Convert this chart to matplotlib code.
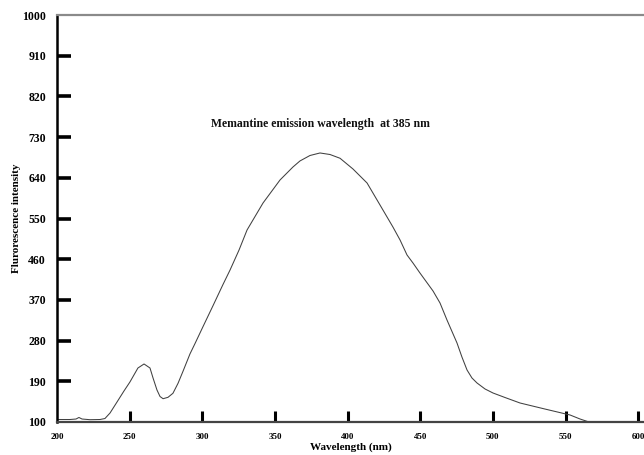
import matplotlib
matplotlib.use("Agg")
import matplotlib.pyplot as plt

# Data (wavelength nm, fluorescence intensity)
wavelength = [200.0, 208.9, 213.1, 215.1, 217.2, 222.7, 229.6, 233.0, 236.5, 241.3,
              246.1, 250.2, 255.7, 259.9, 264.0, 266.1, 268.8, 270.9, 273.0, 276.4,
              279.8, 283.3, 286.7, 291.5, 295.0, 300.5, 307.4, 314.2, 319.1, 325.3,
              330.8, 341.8, 353.5, 362.4, 367.2, 374.1, 381.0, 387.9, 394.8, 403.7,
              413.4, 422.3, 431.2, 436.1, 440.9, 445.0, 449.8, 458.8, 463.6, 468.4,
              475.3, 478.7, 482.2, 485.6, 489.1, 494.6, 500.1, 508.3, 518.7, 535.8,
              553.1, 560.0, 568.2]
intensity = [105.5, 105.5, 106.6, 110.0, 106.6, 105.1, 105.5, 107.7, 119.9, 144.2,
             168.6, 188.5, 219.4, 228.3, 219.4, 197.3, 170.8, 156.4, 151.5, 154.6,
             163.5, 185.6, 212.0, 250.4, 273.6, 311.0, 357.4, 403.8, 436.1, 480.4,
             524.6, 584.3, 635.2, 663.9, 677.2, 689.3, 694.9, 691.5, 683.2, 659.5,
             628.5, 579.9, 531.2, 502.5, 469.3, 451.6, 429.5, 389.7, 363.2, 325.6,
             274.7, 243.7, 215.0, 197.3, 186.2, 173.0, 164.1, 154.2, 142.0, 128.7,
             115.5, 106.6, 97.8]

x_ticks = [200, 250, 300, 350, 400, 450, 500, 550, 600]
x_tick_labels = ["200", "250", "300", "350", "400", "450", "500", "550", "600"]
y_ticks = [100, 190, 280, 370, 460, 550, 640, 730, 820, 910, 1000]
y_tick_labels = ["100", "190", "280", "370", "460", "550", "640", "730", "820", "910", "1000"]

title_text = "Memantine emission wavelength  at 385 nm"
x_label = "Wavelength (nm)"
y_label = "Flurorescence intensity"

serif = ["Liberation Serif", "DejaVu Serif"]

fig = plt.figure(figsize=(6.44, 4.55), dpi=100)
ax = fig.add_axes([57 / 644, 33 / 455, 587 / 644, 407 / 455])

ax.plot(wavelength, intensity, color="#404040", lw=0.75)

ax.set_xlim(200, 604)
ax.set_ylim(100, 1000)

ax.set_xticks(x_ticks)
ax.set_xticklabels(x_tick_labels, fontfamily=serif, fontweight="bold", fontsize=6.5)
ax.set_yticks(y_ticks)
ax.set_yticklabels(y_tick_labels, fontfamily=serif, fontweight="bold", fontsize=8.5)

ax.tick_params(axis="y", direction="in", length=10, width=2.6, color="black", pad=8)
ax.tick_params(axis="x", direction="in", length=8, width=2.2, color="black", pad=8)

# no tick marks at the corners
yt = ax.yaxis.get_major_ticks()
yt[0].tick1line.set_visible(False)
yt[-1].tick1line.set_visible(False)
xt = ax.xaxis.get_major_ticks()
xt[0].tick1line.set_visible(False)

ax.spines["left"].set_linewidth(1.8)
ax.spines["left"].set_color("black")
ax.spines["bottom"].set_linewidth(1.6)
ax.spines["bottom"].set_color("#444444")
ax.spines["top"].set_linewidth(1.6)
ax.spines["top"].set_color("#8a8a8a")
ax.spines["right"].set_visible(False)

ax.set_xlabel(x_label, fontfamily=serif, fontweight="bold", fontsize=8, labelpad=1)
ax.set_ylabel(y_label, fontfamily=serif, fontweight="bold", fontsize=8, labelpad=1)

ax.text(381, 760, title_text, fontfamily=serif, fontweight="bold", fontsize=8.5,
        ha="center", va="center", color="#111111")

fig.savefig("out.png", dpi=100)
